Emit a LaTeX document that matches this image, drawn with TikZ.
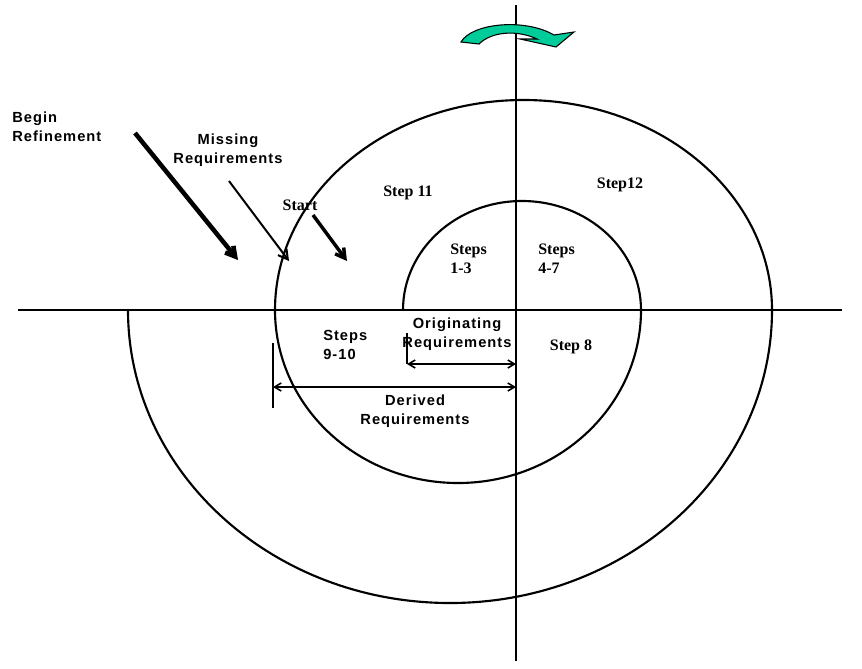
\documentclass[tikz,border=0pt]{standalone}
\usepackage{fontspec}
\setmainfont{Liberation Serif}
\setsansfont[LetterSpace=7]{Liberation Sans}
\usetikzlibrary{arrows.meta}
\definecolor{turnGreen}{RGB}{0,204,153}

\begin{document}
\begin{tikzpicture}[
  x=0.75pt, y=-0.75pt,
  every node/.style={inner sep=0pt},
  sanslbl/.style={font=\sffamily\bfseries\fontsize{11pt}{14.25pt}\selectfont, align=center},
  seriflbl/.style={font=\rmfamily\bfseries\fontsize{12pt}{14.25pt}\selectfont, align=left},
  axis/.style={line width=1.3pt},
  spiral/.style={line width=1.6pt},
  pointer/.style={-{Straight Barb[length=7pt,width=8pt]}},
  dimarrow/.style={{Straight Barb[length=5pt,width=6pt]}-{Straight Barb[length=5pt,width=6pt]},
                   line width=1.2pt},
]
\useasboundingbox (0,0) rectangle (862,668);

% axes
\coordinate (yTop) at (516,5);
\coordinate (yBot) at (516,661);
\coordinate (xLeft) at (18,310);
\coordinate (xRight) at (842,310);
\draw[axis] (yTop) -- (yBot);
\draw[axis] (xLeft) -- (xRight);

% spiral
\draw[spiral] (403,310)
  arc[start angle=180, end angle=360, x radius=119, y radius=109]
  arc[start angle=0, end angle=180, x radius=183, y radius=173]
  arc[start angle=180, end angle=360, x radius=248.5, y radius=210]
  arc[start angle=0, end angle=180, x radius=322, y radius=293];

% turn direction
\filldraw[fill=turnGreen, draw=black, line width=0.8pt]
  (461,42) .. controls (472,23) and (525,18) .. (554,35)
  -- (574,32) -- (556,47) -- (520,39) -- (537,39)
  .. controls (518,30) and (492,31) .. (479,44) -- cycle;

% labels
\node[sanslbl, align=left, anchor=west] (beginRef) at (12,127) {Begin\\Refinement};
\node[sanslbl] (missReq) at (228,150) {Missing\\Requirements};
\node[seriflbl] (startLbl) at (300,205) {Start};
\node[seriflbl] (step11) at (408,193) {Step 11};
\node[seriflbl] (step12) at (620,185) {Step12};
\node[seriflbl, anchor=west] (steps13) at (450,259) {Steps\\1-3};
\node[seriflbl, anchor=west] (steps47) at (538,259) {Steps\\4-7};
\node[sanslbl, align=left, anchor=west] (steps910) at (323,345) {Steps\\9-10};
\node[sanslbl] (origReq) at (457,334) {Originating\\Requirements};
\node[seriflbl] (step8) at (571,347) {Step 8};
\node[sanslbl] (derReq) at (415,411) {Derived\\Requirements};

% pointers
\coordinate (refineTail) at (135,133);
\coordinate (refineTip) at (238,260);
\coordinate (missTail) at (229,181);
\coordinate (missTip) at (289,261);
\coordinate (startTail) at (313,215);
\coordinate (startTip) at (347,261);
\draw[pointer, line width=3.4pt] (refineTail) -- (refineTip);
\draw[pointer, line width=1.5pt] (missTail) -- (missTip);
\draw[pointer, line width=2.6pt] (startTail) -- (startTip);

% dimension lines
\coordinate (origTickTop) at (407,333);
\coordinate (origLeft) at (407,364);
\coordinate (origRight) at (516,364);
\coordinate (derTickTop) at (273,343);
\coordinate (derTickBot) at (273,408);
\coordinate (derLeft) at (273,387);
\coordinate (derRight) at (516,387);
\draw[line width=1.2pt] (origTickTop) -- (origLeft);
\draw[dimarrow] (origLeft) -- (origRight);
\draw[line width=1.6pt] (derTickTop) -- (derTickBot);
\draw[dimarrow] (derLeft) -- (derRight);
\end{tikzpicture}
\end{document}
